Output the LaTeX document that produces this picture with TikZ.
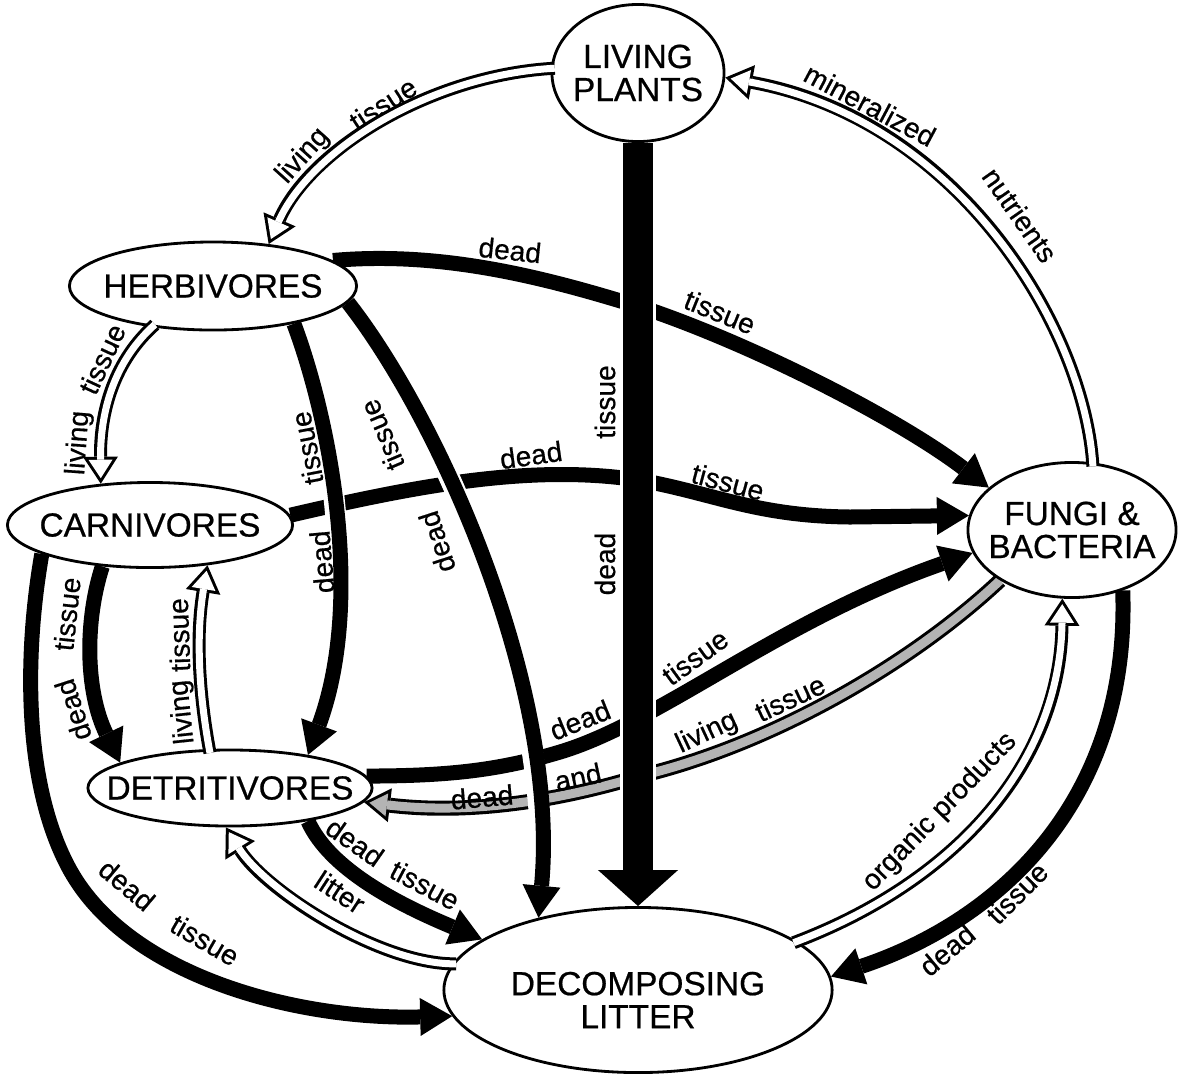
\documentclass[tikz,border=0pt]{standalone}
\usepackage{fontspec}
\setmainfont{Liberation Sans}[FakeBold=0.6]
\usetikzlibrary{arrows.meta, shapes.geometric, backgrounds}
\definecolor{Ink}{HTML}{000000}
\definecolor{Stipple}{HTML}{B4B4B4}
\pgfdeclarelayer{front}
\pgfsetlayers{background,main,front}
\tikzset{
    pool/.style={ellipse, draw=Ink, line width=0.8pt, fill=white, inner sep=0pt},
    pooltext/.style={font=\fontsize{9.5}{9.4}\selectfont, align=center, text=Ink},
    tag/.style={font=\fontsize{8}{8}\selectfont, inner sep=0pt, text=Ink},
    deadflow/.style={draw=Ink, line width=1.5mm, -{Triangle[length=3.2mm, width=3.8mm, line width=0pt]}},
    % freccia vuota: contorno nero sotto, anima bianca sopra
    liveflow/.style={
        preaction={draw=Ink, line width=1.3mm, shorten >=0pt, -{Triangle[length=2.7mm, width=3.5mm, line width=0pt]}},
        draw=white, line width=0.7mm, shorten <=-0.4mm, shorten >=0.55mm,
        -{Triangle[length=1.85mm, width=2.4mm, line width=0pt]}},
    mixflow/.style={
        preaction={draw=Ink, line width=1.5mm, shorten >=0pt, -{Triangle[length=2.6mm, width=3.4mm, line width=0pt]}},
        draw=Stipple, line width=0.9mm, shorten >=0.54mm,
        -{Triangle[length=1.76mm, width=2.3mm, line width=0pt]}},
    gapline/.style={preaction={draw=white, line width=#1, arrows=-}},
}

\begin{document}
\begin{tikzpicture}[x=0.01cm, y=-0.01cm]
    \useasboundingbox (0,0) rectangle (1182,1078);

    % Comparti (ellissi)
    \node[pool, minimum width=1.72cm, minimum height=1.37cm, label={[pooltext]center:{LIVING\\PLANTS}}] (plants) at (638,73) {};
    \node[pool, minimum width=2.87cm, minimum height=0.88cm, label={[pooltext]center:HERBIVORES}] (herb) at (213,286) {};
    \node[pool, minimum width=2.85cm, minimum height=0.85cm, label={[pooltext]center:CARNIVORES}] (carn) at (150,525) {};
    \node[pool, minimum width=2.84cm, minimum height=0.76cm, label={[pooltext]center:DETRITIVORES}] (detr) at (230,788) {};
    \node[pool, minimum width=2.08cm, minimum height=1.35cm, label={[pooltext]center:{FUNGI \&\\BACTERIA}}] (fungi) at (1072,530) {};
    \node[pool, minimum width=3.88cm, minimum height=1.65cm, label={[pooltext, yshift=-1mm]center:{DECOMPOSING\\LITTER}}] (litter) at (638,990) {};

    % Flussi di tessuto morto (sotto i nodi)
    \begin{pgfonlayer}{background}
        \draw[deadflow] (herb.12) .. controls (450,250) and (560,282) .. (650,310)
            .. controls (760,348) and (900,420) .. (fungi.153);
        \draw[deadflow] (carn.4) .. controls (420,485) and (540,462) .. (650,482)
            .. controls (720,496) and (760,516) .. (850,517) -- (fungi.172);
        \draw[deadflow] (detr.5) .. controls (450,776) and (500,770) .. (560,752)
            .. controls (660,722) and (780,620) .. (fungi.193);
        \draw[mixflow] (fungi.215) .. controls (910,665) and (770,745) .. (640,776)
            .. controls (575,796) and (480,816) .. (detr.-6);
        \draw[deadflow] (carn.195) .. controls (25,650) and (22,783) .. (70,870)
            .. controls (130,978) and (300,1020) .. (litter.188);
        \draw[deadflow] (carn.221) .. controls (85,620) and (85,690) .. (detr.167);
        \draw[deadflow] (detr.-23) .. controls (330,870) and (400,905) .. (litter.162);
        \draw[deadflow] (fungi.-50) .. controls (1130,800) and (1000,920) .. (litter.4);

        % questi passano sopra gli altri
        \draw[deadflow, gapline=2.1mm] (herb.-25) .. controls (330,420) and (365,600) .. (detr.23);
        \draw[deadflow, gapline=2.1mm] (herb.-7) .. controls (440,420) and (560,690) .. (litter.144);
        \draw[deadflow, gapline=3.6mm, line width=3mm, -{Triangle[length=3.6mm, width=8mm, line width=0pt]}] (plants.south) -- (litter.north);
    \end{pgfonlayer}

    % Flussi vivi (frecce vuote)
    \begin{pgfonlayer}{front}
        \draw[liveflow] (plants.177) .. controls (430,75) and (310,150) .. (herb.37);
        \draw[liveflow] (herb.214) .. controls (115,360) and (100,410) .. (carn.140);
        \draw[liveflow] (detr.118) .. controls (200,700) and (195,640) .. (carn.-35);
        \draw[liveflow] (litter.172) .. controls (380,965) and (265,890) .. (detr.264);
        \draw[liveflow] (litter.17) .. controls (960,880) and (1060,760) .. (fungi.262);
        \draw[liveflow] (fungi.73) .. controls (1085,330) and (960,120) .. (plants.-3);
    \end{pgfonlayer}

    % Etichette
    \node[tag, rotate=48] (lhA) at (303,156) {living};
    \node[tag, rotate=33] (lhB) at (383,104) {tissue};
    \node[tag, rotate=86] (hcA) at (79,443) {living};
    \node[tag, rotate=65] (hcB) at (102,359) {tissue};
    \node[tag, rotate=96] (dcA) at (183,712) {living};
    \node[tag, rotate=92] (dcB) at (179,635) {tissue};
    \node[tag, rotate=84] (cdB) at (67,614) {tissue};
    \node[tag, rotate=108] (cdA) at (73,710) {dead};
    \node[tag, rotate=101] (hdB) at (307,448) {tissue};
    \node[tag, rotate=95] (hdA) at (322,562) {dead};
    \node[tag, rotate=113] (hlB) at (382,435) {tissue};
    \node[tag, rotate=108] (hlA) at (437,542) {dead};
    \node[tag, rotate=90] (plB) at (605,402) {tissue};
    \node[tag, rotate=90] (plA) at (605,564) {dead};
    \node[tag, rotate=-6] (hfA) at (510,250) {dead};
    \node[tag, rotate=-22] (hfB) at (720,312) {tissue};
    \node[tag, rotate=8] (cfA) at (531,455) {dead};
    \node[tag, rotate=-15] (cfB) at (728,482) {tissue};
    \node[tag, rotate=22] (dfA) at (580,720) {dead};
    \node[tag, rotate=36] (dfB) at (695,657) {tissue};
    \node[tag, rotate=25] (fdA) at (707,733) {living};
    \node[tag, rotate=25] (fdB) at (790,698) {tissue};
    \node[tag, rotate=12] (fdC) at (578,777) {and};
    \node[tag, rotate=5] (fdD) at (482,797) {dead};
    \node[tag, rotate=-40] (clA) at (127,885) {dead};
    \node[tag, rotate=-30] (clB) at (205,940) {tissue};
    \node[tag, rotate=-35] (dlA) at (355,842) {dead};
    \node[tag, rotate=-28] (dlB) at (425,885) {tissue};
    \node[tag, rotate=-33] (ldA) at (340,892) {litter};
    \node[tag, rotate=46] (lfA) at (940,812) {organic products};
    \node[tag, rotate=45] (flB) at (1017,893) {tissue};
    \node[tag, rotate=40] (flA) at (947,950) {dead};
    \node[tag, rotate=-28] (fpA) at (870,105) {mineralized};
    \node[tag, rotate=-55] (fpB) at (1020,215) {nutrients};
\end{tikzpicture}
\end{document}
